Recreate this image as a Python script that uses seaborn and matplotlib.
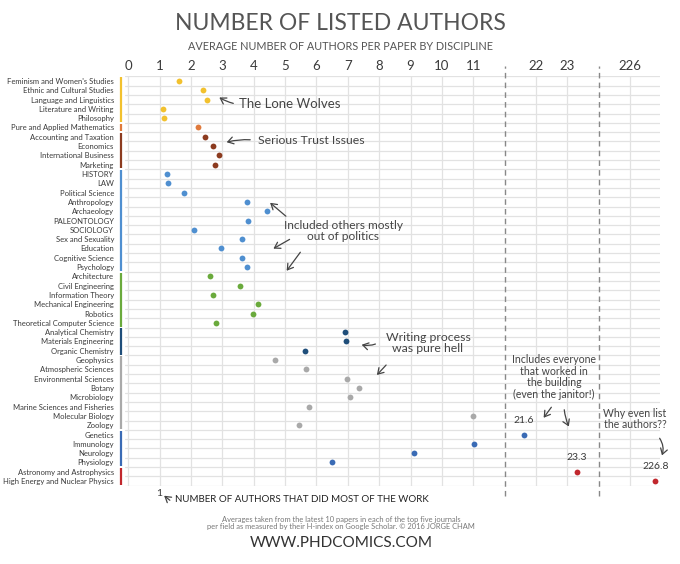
import numpy as np
import pandas as pd
import matplotlib
matplotlib.use("Agg")
import matplotlib.pyplot as plt
import seaborn as sns

# ---------------- data ----------------
disciplines = [
    "Feminism and Women's Studies", "Ethnic and Cultural Studies", "Language and Linguistics",
    "Literature and Writing", "Philosophy", "Pure and Applied Mathematics",
    "Accounting and Taxation", "Economics", "International Business", "Marketing",
    "HISTORY", "LAW", "Political Science", "Anthropology", "Archaeology", "PALEONTOLOGY",
    "SOCIOLOGY", "Sex and Sexuality", "Education", "Cognitive Science", "Psychology",
    "Architecture", "Civil Engineering", "Information Theory", "Mechanical Engineering",
    "Robotics", "Theoretical Computer Science", "Analytical Chemistry", "Materials Engineering",
    "Organic Chemistry", "Geophysics", "Atmospheric Sciences", "Environmental Sciences",
    "Botany", "Microbiology", "Marine Sciences and Fisheries", "Molecular Biology", "Zoology",
    "Genetics", "Immunology", "Neurology", "Physiology", "Astronomy and Astrophysics",
    "High Energy and Nuclear Physics",
]
authors = [
    1.62, 2.39, 2.51, 1.11, 1.14, 2.24,
    2.44, 2.72, 2.91, 2.78,
    1.23, 1.27, 1.77, 3.78, 4.43, 3.83, 2.09, 3.63, 2.97, 3.63, 3.78,
    2.62, 3.56, 2.69, 4.15, 3.97, 2.80,
    6.91, 6.94, 5.65,
    4.67, 5.68, 6.97, 7.35, 7.07, 5.77, 10.98, 5.43,
    21.6, 11.01, 9.12, 6.50,
    23.3, 226.8,
]
groups = (["humanities"] * 5 + ["math"] + ["business"] * 4 + ["social"] * 11 +
          ["engineering"] * 6 + ["chemistry"] * 3 + ["earth"] * 8 + ["medicine"] * 4 +
          ["physics"] * 2)
group_colors = {
    "humanities": "#f2c12e", "math": "#e07a3c", "business": "#8c3b1f",
    "social": "#4f8fd0", "engineering": "#6aaa3c", "chemistry": "#1f4e7a",
    "earth": "#a9a9a9", "medicine": "#3a6bb5", "physics": "#c1272d",
}
tick_values = [0, 1, 2, 3, 4, 5, 6, 7, 8, 9, 10, 11, 22, 23, 226]
break_values = [21, 225]
labelled_values = [21.6, 23.3, 226.8]

df = pd.DataFrame({"discipline": disciplines, "authors": authors, "group": groups})

# broken x axis as a piecewise-linear function scale
xp = np.array([-50.0, 12.0, 21.0, 24.0, 225.0, 300.0])
tp = np.array([-50.0, 12.0, 12.000001, 15.000001, 15.000002, 90.000002])
def fwd(x):
    return np.interp(np.asarray(x, float), xp, tp)
def inv(t):
    return np.interp(np.asarray(t, float), tp, xp)

W, H = 680, 564
fig = plt.figure(figsize=(W / 100, H / 100), dpi=100)
sns.set_style("white")
plt.rcParams["font.family"] = ["Lato", "DejaVu Sans"]
TXT = "#3a3a3a"

def fx(px):
    return px / W
def fy(py):
    return 1 - py / H

ax = fig.add_axes([fx(125), fy(485.7), fx(660) - fx(125), fy(76.3) - fy(485.7)])
ax.set_xscale("function", functions=(fwd, inv))

sns.stripplot(data=df, x="authors", y="discipline", hue="group", palette=group_colors,
              order=disciplines, jitter=False, size=4.2, linewidth=0, legend=False,
              ax=ax, zorder=3)

ax.set_xlim(-0.1, 226.95)
ax.set_ylim(len(disciplines) - 0.5, -0.5)
ax.set_xlabel("")
ax.set_ylabel("")
for s in ax.spines.values():
    s.set_visible(False)

ax.xaxis.tick_top()
ax.set_xticks(tick_values)
ax.set_xticklabels([str(v) for v in tick_values])
ax.tick_params(axis="x", length=0, pad=3, labelsize=9.5, labelcolor=TXT)
ax.xaxis.set_minor_locator(matplotlib.ticker.NullLocator())
ax.set_yticks(np.arange(len(disciplines)))
ax.set_yticklabels(disciplines)
ax.tick_params(axis="y", length=0, pad=8, labelsize=5.5, labelcolor=TXT)
ax.set_yticks(np.arange(-0.5, len(disciplines), 1), minor=True)
ax.grid(False)
ax.grid(True, which="major", axis="x", color="#e2e2e2", lw=0.9, zorder=0)
ax.grid(True, which="minor", axis="y", color="#e2e2e2", lw=0.9, zorder=0)
ax.tick_params(axis="y", which="minor", length=0)

# dashed axis breaks
ytr = ax.get_xaxis_transform()
for b in break_values:
    ax.plot([b, b], [-0.025, 1.025], transform=ytr, color="#888888", lw=1.0,
            ls=(0, (4, 3)), clip_on=False, zorder=2)

# coloured group bars on the left
ylt = ax.get_yaxis_transform()
start = 0
for i in range(1, len(groups) + 1):
    if i == len(groups) or groups[i] != groups[start]:
        ax.plot([-0.008, -0.008], [start - 0.4, i - 1 + 0.4], transform=ylt,
                color=group_colors[groups[start]], lw=1.6, clip_on=False,
                solid_capstyle="butt")
        start = i

# value labels for the far-out points
for v in labelled_values:
    yi = authors.index(v)
    ax.annotate(f"{v}", (v, yi), xytext=(0, 7), textcoords="offset points",
                ha="center", va="bottom", fontsize=7.5, color=TXT)

# "1" under the axis
ax.text(1, -0.008, "1", transform=ytr, ha="center", va="top", fontsize=7.5, color=TXT)

# titles
fig.text(0.5, fy(23), "NUMBER OF LISTED AUTHORS", ha="center", va="center",
         fontsize=16.5, color="#555555")
fig.text(0.5, fy(47), "AVERAGE NUMBER OF AUTHORS PER PAPER BY DISCIPLINE", ha="center",
         va="center", fontsize=7.8, color="#555555")

# annotations
def note(text, x, y, color="#444444", **kw):
    fig.text(fx(x), fy(y), text, color=color, **kw)

def arrow(x0, y0, x1, y1, rad=0.0):
    fig.add_artist(matplotlib.patches.FancyArrowPatch(
        (fx(x0), fy(y0)), (fx(x1), fy(y1)), transform=fig.transFigure,
        arrowstyle="->,head_length=4,head_width=2.5", color="#444444", lw=0.9,
        connectionstyle=f"arc3,rad={rad}"))

note("The Lone Wolves", 239, 104, fontsize=9.5, ha="left", va="center")
arrow(236, 104, 217, 96, rad=-0.1)
note("Serious Trust Issues", 258, 141, fontsize=8.8, ha="left", va="center")
arrow(253, 140, 224, 143, rad=0.1)
note("Included others mostly\nout of politics", 343, 231, fontsize=8.6, ha="center",
     va="center", linespacing=1.05)
arrow(288, 218, 268, 201)
arrow(292, 238, 271, 250)
arrow(302, 250, 285, 273)
note("Writing process\nwas pure hell", 428, 343, fontsize=8.8, ha="center", va="center",
     linespacing=1.05)
arrow(378, 343, 359, 344, rad=-0.2)
arrow(388, 363, 375, 377)
note("Includes everyone\nthat worked in\nthe building\n(even the janitor!)", 554, 377,
     fontsize=7.6, ha="center", va="center", linespacing=1.05)
arrow(553, 405, 542, 420)
arrow(564, 407, 570, 429, rad=0.1)
note("Why even list\nthe authors??", 635, 419, fontsize=7.6, ha="center", va="center",
     linespacing=1.05)
arrow(658, 436, 661, 458, rad=-0.3)

arrow(172, 502, 162, 494)
note("NUMBER OF AUTHORS THAT DID MOST OF THE WORK", 175, 500, fontsize=7, ha="left",
     va="center", color="#222222")
note("Averages taken from the latest 10 papers in each of the top five journals\n"
     "per field as measured by their H-index on Google Scholar. \u00a9 2016 JORGE CHAM",
     341, 523, fontsize=5.4, ha="center", va="center", color="#777777", linespacing=1.1)
note("WWW.PHDCOMICS.COM", 341, 543, fontsize=11, ha="center", va="center",
     color="#333333")

fig.savefig("out.png", dpi=100, facecolor="white")
